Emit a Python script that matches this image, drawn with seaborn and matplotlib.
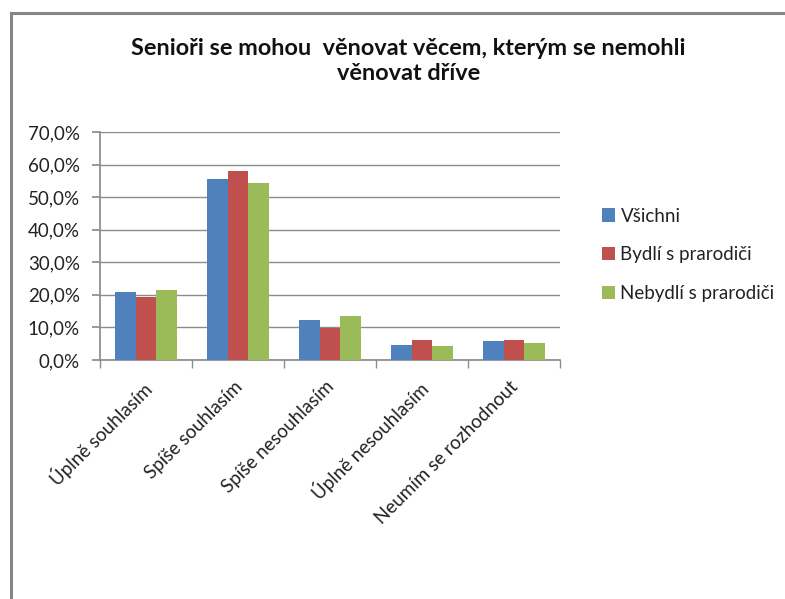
import pandas as pd
import matplotlib.pyplot as plt
import seaborn as sns
from matplotlib.ticker import FuncFormatter, MultipleLocator
from matplotlib.transforms import ScaledTranslation

categories = ["Úplně souhlasím", "Spíše souhlasím", "Spíše nesouhlasím",
              "Úplně nesouhlasím", "Neumím se rozhodnout"]
vsichni = [20.8, 55.5, 12.3, 4.7, 5.7]
bydli = [19.3, 57.9, 9.7, 6.2, 6.2]
nebydli = [21.4, 54.2, 13.5, 4.4, 5.3]
series_names = ["Všichni", "Bydlí s prarodiči", "Nebydlí s prarodiči"]

df = pd.DataFrame({
    "kategorie": categories * 3,
    "skupina": [series_names[0]] * 5 + [series_names[1]] * 5 + [series_names[2]] * 5,
    "hodnota": vsichni + bydli + nebydli,
})

sns.set_theme(style="white")
plt.rcParams["font.family"] = ["Lato", "DejaVu Sans"]
plt.rcParams["savefig.edgecolor"] = "none"
plt.rcParams["figure.edgecolor"] = "none"

fig = plt.figure(figsize=(7.85, 5.99), dpi=100)
fig.patch.set_edgecolor("none")
fig.patch.set_linewidth(0)

# chart frame: only its left and top edges fall inside the picture
fx, fy = 10.5 / 785, 1 - 13 / 599
frame = fig.add_axes([fx, -0.2, 1.3, fy + 0.2], zorder=-1)
frame.set_xticks([])
frame.set_yticks([])
for s in ["right", "bottom"]:
    frame.spines[s].set_visible(False)
for s in ["left", "top"]:
    frame.spines[s].set_color("#868686")
    frame.spines[s].set_linewidth(2.2)
frame.patch.set_alpha(0)

ax = fig.add_axes([0.1274, 0.399, 0.586, 0.3806])

sns.barplot(data=df, x="kategorie", y="hodnota", hue="skupina", ax=ax,
            palette=["#4F81BD", "#C0504D", "#9BBB59"], width=0.675,
            saturation=1, edgecolor="none", zorder=3)

ax.set_ylim(0, 70)
ax.set_xlim(-0.5, 4.5)
ax.yaxis.set_major_locator(MultipleLocator(10))
ax.yaxis.set_major_formatter(FuncFormatter(lambda v, p: f"{v:.1f}%".replace(".", ",")))
ax.grid(axis="y", color="#8c8c8c", linewidth=1.0, zorder=0)
ax.set_axisbelow(True)
for s in ["top", "right"]:
    ax.spines[s].set_visible(False)
ax.spines["left"].set_color("#8c8c8c")
ax.spines["bottom"].set_color("#8c8c8c")
ax.tick_params(axis="y", which="major", left=True, length=6, color="#8c8c8c",
               labelsize=13.5, labelcolor="#222222", pad=8.5)
ax.set_xticks(range(5))
ax.set_xticks([-0.5, 0.5, 1.5, 2.5, 3.5, 4.5], minor=True)
ax.tick_params(axis="x", which="major", bottom=False, length=0, labelsize=13.5,
               labelcolor="#222222", pad=13)
ax.tick_params(axis="x", which="minor", bottom=True, length=6, color="#8c8c8c")
ax.set_xticklabels(categories, rotation=45, ha="right", rotation_mode="anchor")
shift = ScaledTranslation(-0.045, 0, fig.dpi_scale_trans)
for lab in ax.get_xticklabels():
    lab.set_transform(lab.get_transform() + shift)
ax.set_xlabel("")
ax.set_ylabel("")

fig.text(0.52, 0.898, "Senioři se mohou  věnovat věcem, kterým se nemohli\nvěnovat dříve",
         ha="center", va="center", fontsize=16.9, fontweight="bold", color="#111111",
         linespacing=1.2)

leg = ax.legend(loc="center left", bbox_to_anchor=(1.054, 0.462), frameon=False,
                fontsize=13.5, labelspacing=1.15, handlelength=0.7, handleheight=0.7,
                handletextpad=0.3)
for t in leg.get_texts():
    t.set_color("#222222")

plt.savefig("out.png", dpi=100)
plt.close()
